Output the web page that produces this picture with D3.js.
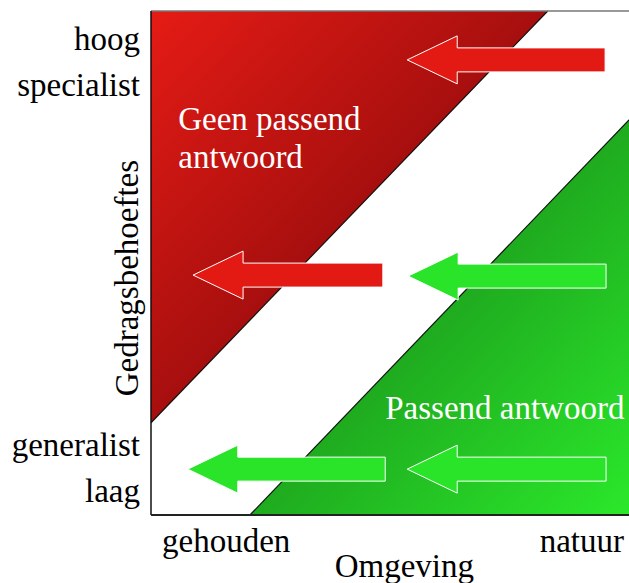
<!DOCTYPE html>
<html>
<head>
<meta charset="utf-8">
<script src="https://cdn.jsdelivr.net/npm/d3@7"></script>
<style>
  body { margin: 0; background: #fff; }
  text { font-family: "Liberation Serif", "Times New Roman", serif; }
</style>
</head>
<body>
<div id="my_dataviz"></div>
<script>

// regions in data units (x: gehouden -> natuur, y: laag -> hoog)
var redRegion = [[0, 1], [0.83, 1], [0, 0.183]];
var greenRegion = [[0.207, 0], [1, 0], [1, 0.784]];

// arrows: tip x, tail x, y, kind
var arrowTip  = [0.536, 0.088, 0.538, 0.077, 0.536];
var arrowTail = [0.950, 0.485, 0.952, 0.490, 0.952];
var arrowY    = [0.903, 0.476, 0.474, 0.091, 0.091];
var arrowKind = ["red", "red", "green", "green", "green"];

var yTickValues = [0.877, 0.071];
var yTickLabels = [["hoog", "specialist"], ["generalist", "laag"]];
var xTickValues = [0, 1];
var xTickLabels = ["gehouden", "natuur"];

var regionLabels = [
  {lines: ["Geen passend", "antwoord"], x: 0.057, y: 0.763},
  {lines: ["Passend antwoord"], x: 0.49, y: 0.19}
];

var margin = {top: 11, right: 0, bottom: 68, left: 151};
var width = 629 - margin.left - margin.right;
var height = 583 - margin.top - margin.bottom;

var svg = d3.select("#my_dataviz")
  .append("svg")
  .attr("width", 629)
  .attr("height", 583);

var defs = svg.append("defs");

var redGrad = defs.append("linearGradient")
  .attr("id", "redGrad")
  .attr("x1", 0).attr("y1", 0).attr("x2", 1).attr("y2", 1);
redGrad.append("stop").attr("offset", 0).attr("stop-color", "#e51b15");
redGrad.append("stop").attr("offset", 0.5).attr("stop-color", "#a60f0e");

var greenGrad = defs.append("linearGradient")
  .attr("id", "greenGrad")
  .attr("x1", 0).attr("y1", 0).attr("x2", 1).attr("y2", 1);
greenGrad.append("stop").attr("offset", 0.5).attr("stop-color", "#1fab1f");
greenGrad.append("stop").attr("offset", 1).attr("stop-color", "#2be82b");

var g = svg.append("g")
  .attr("transform", "translate(" + margin.left + "," + margin.top + ")");

var x = d3.scaleLinear().domain([0, 1]).range([0, width]);
var y = d3.scaleLinear().domain([0, 1]).range([height, 0]);

var line = d3.line()
  .x(function(d) { return x(d[0]); })
  .y(function(d) { return y(d[1]); });

g.append("path")
  .attr("d", line(redRegion) + "Z")
  .attr("fill", "url(#redGrad)");

g.append("path")
  .attr("d", line(greenRegion) + "Z")
  .attr("fill", "url(#greenGrad)");

// diagonal edges
g.append("path")
  .attr("d", line([redRegion[1], redRegion[2]]))
  .attr("stroke", "#111").attr("stroke-width", 1.2).attr("fill", "none");
g.append("path")
  .attr("d", line([greenRegion[0], greenRegion[2]]))
  .attr("stroke", "#111").attr("stroke-width", 1.2).attr("fill", "none");

// frame
g.append("line")
  .attr("x1", 0).attr("x2", width).attr("y1", 0).attr("y2", 0)
  .attr("stroke", "#777").attr("stroke-width", 1.5);
g.append("line")
  .attr("x1", 0).attr("x2", 0).attr("y1", 0).attr("y2", height)
  .attr("stroke", "#111").attr("stroke-width", 1.5);
g.append("line")
  .attr("x1", 0).attr("x2", width).attr("y1", height).attr("y2", height)
  .attr("stroke", "#222").attr("stroke-width", 2);

// arrows
var headLen = 50, headHalf = 24, bodyHalf = 12;
var arrowColor = {red: "#e31a14", green: "#2ae42a"};

arrowTip.forEach(function(tipV, i) {
  var tx = x(tipV), ex = x(arrowTail[i]), cy = y(arrowY[i]);
  var hb = tx + headLen;
  var pts = [
    [tx, cy], [hb, cy - headHalf], [hb, cy - bodyHalf], [ex, cy - bodyHalf],
    [ex, cy + bodyHalf], [hb, cy + bodyHalf], [hb, cy + headHalf]
  ];
  g.append("polygon")
    .attr("points", pts.map(function(p) { return p.join(","); }).join(" "))
    .attr("fill", arrowColor[arrowKind[i]])
    .attr("stroke", "#fff")
    .attr("stroke-width", 1);
});

// region labels
regionLabels.forEach(function(r) {
  var t = g.append("text")
    .attr("x", x(r.x))
    .attr("y", y(r.y))
    .attr("fill", "#fff")
    .attr("font-size", "33px");
  r.lines.forEach(function(l, j) {
    t.append("tspan").attr("x", x(r.x)).attr("dy", j == 0 ? 0 : 38).text(l);
  });
});

// y tick labels
yTickValues.forEach(function(v, i) {
  var t = g.append("text")
    .attr("text-anchor", "end")
    .attr("font-size", "33px")
    .attr("fill", "#000");
  t.selectAll("tspan")
    .data(yTickLabels[i])
    .enter().append("tspan")
    .attr("x", -11)
    .attr("y", function(d, j) { return y(v) - 23 + j * 46; })
    .text(function(d) { return d; });
});

// x tick labels
xTickValues.forEach(function(v, i) {
  g.append("text")
    .attr("x", v == 0 ? x(v) + 11 : x(v) - 5)
    .attr("y", height + 37)
    .attr("text-anchor", v == 0 ? "start" : "end")
    .attr("font-size", "33px")
    .attr("fill", "#000")
    .text(xTickLabels[i]);
});

// axis titles
g.append("text")
  .attr("x", x(0.53))
  .attr("y", height + 62)
  .attr("text-anchor", "middle")
  .attr("font-size", "33px")
  .text("Omgeving");

g.append("text")
  .attr("transform", "translate(-13," + y(0.47) + ") rotate(-90)")
  .attr("text-anchor", "middle")
  .attr("font-size", "33px")
  .text("Gedragsbehoeftes");

</script>
</body>
</html>
